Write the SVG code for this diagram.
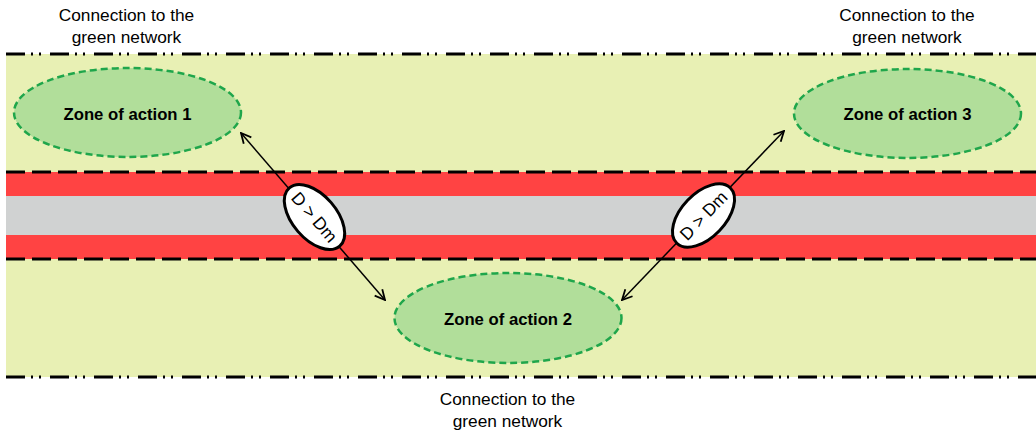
<svg xmlns="http://www.w3.org/2000/svg" width="1036" height="433" viewBox="0 0 1036 433">
<defs>
<marker id="arr" viewBox="0 0 12 12" refX="11" refY="6" markerWidth="12" markerHeight="12" markerUnits="userSpaceOnUse" orient="auto-start-reverse">
<path d="M1,1 L11,6 L1,11" fill="none" stroke="#000" stroke-width="1.8"/>
</marker>
</defs>
<style>
.cap{font-family:"Liberation Sans",Arial,sans-serif;font-size:17.3px;fill:#000;text-anchor:middle}
.zone{fill:#b1de9a;stroke:#1fa64b;stroke-width:2.5;stroke-dasharray:7 4}
.zt{font-family:"Liberation Sans",Arial,sans-serif;font-size:16.7px;font-weight:bold;fill:#000;text-anchor:middle}
.dd{stroke:#000;stroke-width:3;stroke-dasharray:19 6 2 6 2 9;fill:none}
.dash{stroke:#000;stroke-width:3;stroke-dasharray:19 7;fill:none}
.lab{fill:#fff;stroke:#000;stroke-width:3}
.lt{font-family:"Liberation Sans",Arial,sans-serif;font-size:17.5px;fill:#000;text-anchor:middle}
.conn{stroke:#000;stroke-width:1.5;fill:none}
</style>
<g id="background">
<rect x="6" y="54" width="1030" height="323" fill="#e8f0b4"/>
<rect x="6" y="172" width="1030" height="24" fill="#ff4343"/>
<rect x="6" y="196" width="1030" height="39" fill="#d0d2d2"/>
<rect x="6" y="235" width="1030" height="24" fill="#ff4343"/>
<line class="dash" x1="6" y1="172" x2="1036" y2="172"/>
<line class="dash" x1="6" y1="259" x2="1036" y2="259"/>
<line class="dd" x1="6" y1="54" x2="1036" y2="54"/>
<line class="dd" x1="6" y1="377" x2="1036" y2="377"/>
</g>
<g id="caption-top-left">
<text class="cap" x="126.5" y="21">Connection to the</text>
<text class="cap" x="126.5" y="42.5">green network</text>
</g>
<g id="caption-top-right">
<text class="cap" x="907" y="21">Connection to the</text>
<text class="cap" x="907" y="42.5">green network</text>
</g>
<g id="caption-bottom">
<text class="cap" x="507.5" y="405">Connection to the</text>
<text class="cap" x="507.5" y="426.5">green network</text>
</g>
<g id="zone1">
<ellipse class="zone" cx="127.5" cy="112.5" rx="113.5" ry="44.5"/>
<text class="zt" x="127.5" y="120">Zone of action 1</text>
</g>
<g id="zone2">
<ellipse class="zone" cx="508" cy="318" rx="113.5" ry="45"/>
<text class="zt" x="508" y="325">Zone of action 2</text>
</g>
<g id="zone3">
<ellipse class="zone" cx="907.5" cy="113.5" rx="113.5" ry="44.5"/>
<text class="zt" x="907.5" y="120">Zone of action 3</text>
</g>
<g id="connectors">
<line class="conn" x1="241" y1="133" x2="385" y2="300" marker-start="url(#arr)" marker-end="url(#arr)"/>
<line class="conn" x1="622" y1="300" x2="784" y2="131" marker-start="url(#arr)" marker-end="url(#arr)"/>
</g>
<g id="label1" transform="translate(314.5,217) rotate(49.2)">
<ellipse class="lab" cx="0" cy="0" rx="38.5" ry="22"/>
<text class="lt" x="0" y="6.2">D &gt; Dm</text>
</g>
<g id="label2" transform="translate(703.5,215.5) rotate(-46.2)">
<ellipse class="lab" cx="0" cy="0" rx="38.5" ry="22"/>
<text class="lt" x="0" y="6.2">D &gt; Dm</text>
</g>
</svg>
